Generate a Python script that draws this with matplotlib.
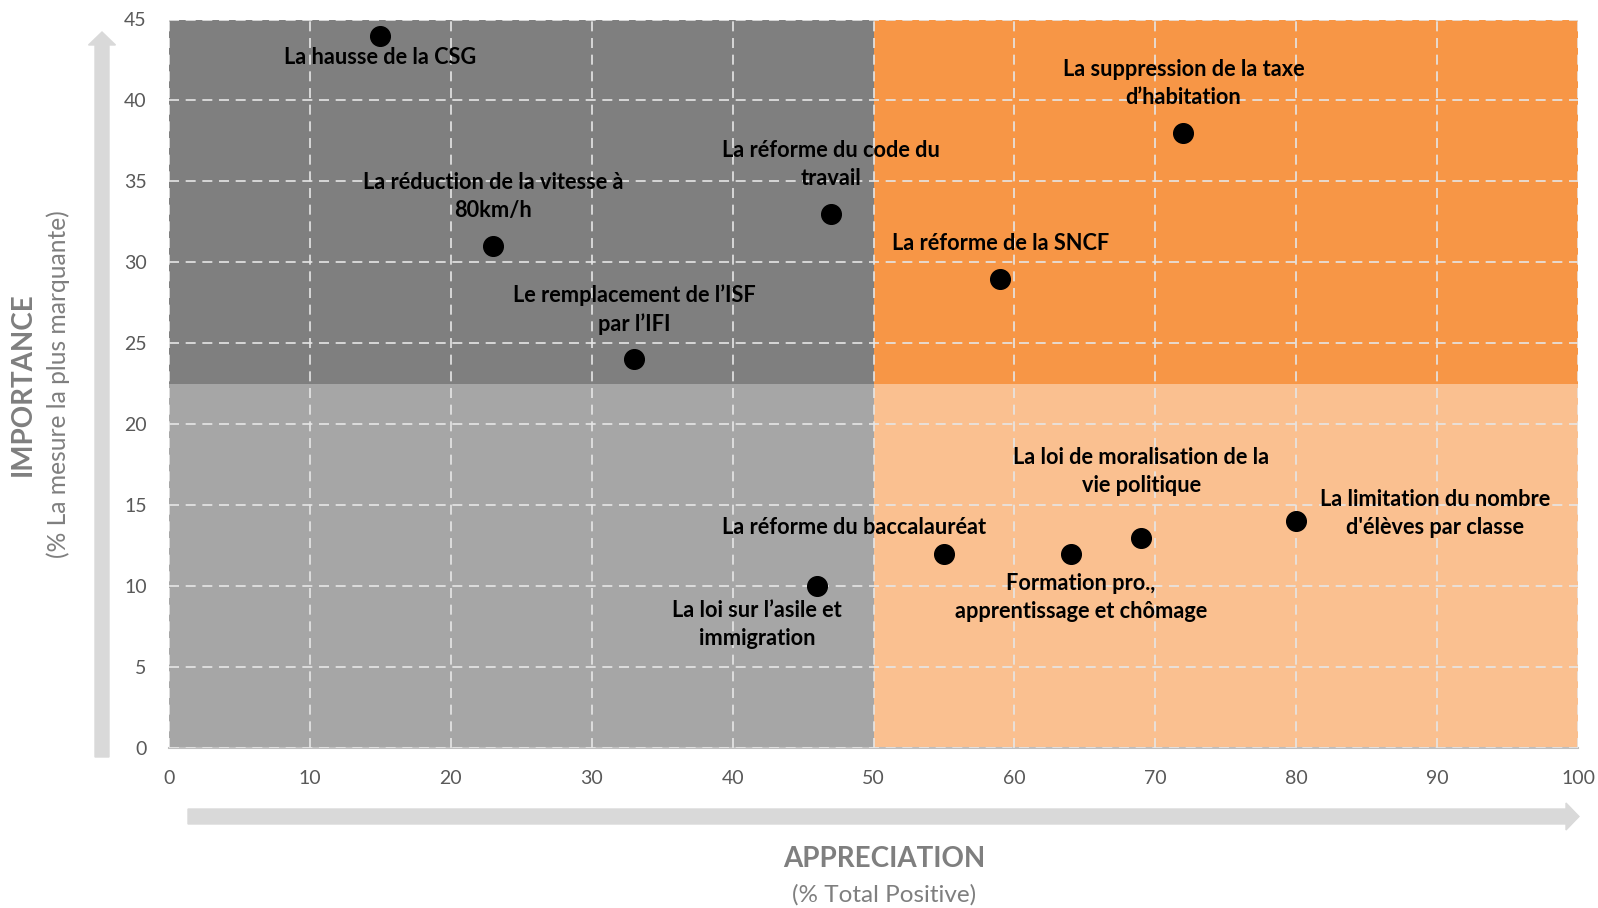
import numpy as np
import matplotlib
matplotlib.use('Agg')
import matplotlib.pyplot as plt
import matplotlib.patches as mpatches
from matplotlib.transforms import IdentityTransform

plt.rc('font', family=['Lato', 'DejaVu Sans'])

# data
mesures = [
    "La hausse de la CSG",
    "La réduction de la vitesse à\n80km/h",
    "Le remplacement de l’ISF\npar l’IFI",
    "La réforme du code du\ntravail",
    "La réforme de la SNCF",
    "La suppression de la taxe\nd’habitation",
    "La réforme du baccalauréat",
    "La loi sur l’asile et\nimmigration",
    "Formation pro.,\napprentissage et chômage",
    "La loi de moralisation de la\nvie politique",
    "La limitation du nombre\nd'élèves par classe",
]
appreciation = [15, 23, 33, 47, 59, 72, 55, 46, 64, 69, 80]
importance = [44, 31, 24, 33, 29, 38, 12, 10, 12, 13, 14]

x_ticks = list(range(0, 101, 10))
y_ticks = list(range(0, 46, 5))

# label offsets from the point, in pixels (dx, dy)
offsets = [(0, -22), (0, 50), (0, 50), (0, 49), (0, 35), (0, 49),
           (-90, 26), (-60, -38), (10, -44), (0, 66), (139, 8)]

W, H = 1598, 908
fig = plt.figure(figsize=(W / 100, H / 100), dpi=100)
ax = fig.add_axes([169 / W, (H - 748) / H, (1578 - 169) / W, (748 - 19.5) / H])

x_mid, y_mid = 50, 22.5
quads = [((0, y_mid), '#7f7f7f'), ((0, 0), '#a6a6a6'),
         ((x_mid, y_mid), '#f79646'), ((x_mid, 0), '#fac090')]
for (x0, y0), c in quads:
    ax.add_patch(mpatches.Rectangle((x0, y0), 50, 22.5, facecolor=c,
                                    edgecolor='none', zorder=0))

ax.set_xlim(0, 100)
ax.set_ylim(0, 45)
ax.set_xticks(x_ticks)
ax.set_yticks(y_ticks)
ax.grid(True, color='#e6e6e6', linestyle=(0, (6, 4)), linewidth=1.2, zorder=1)
ax.set_axisbelow(False)
for s in ['top', 'right', 'left']:
    ax.spines[s].set_visible(False)
ax.spines['bottom'].set_color('#bfbfbf')
ax.spines['bottom'].set_linewidth(1.5)
ax.tick_params(length=0, labelsize=14, colors='#595959')
ax.tick_params(axis='x', pad=16)
ax.tick_params(axis='y', pad=16)

ax.scatter(appreciation, importance, s=200, color='black', zorder=3)

for name, xv, yv, (dx, dy) in zip(mesures, appreciation, importance, offsets):
    ax.annotate(name, (xv, yv), xytext=(dx * 0.72, dy * 0.72),
                textcoords='offset points', ha='center', va='center',
                fontsize=15.7, fontweight='bold', color='black',
                linespacing=1.42, zorder=4)

# axis arrows
ident = IdentityTransform()
fig.add_artist(mpatches.FancyArrow(102, H - 757, 0, (757 - 32), width=14,
                                   head_width=27, head_length=13,
                                   length_includes_head=True,
                                   color='#d9d9d9', transform=ident))
fig.add_artist(mpatches.FancyArrow(188, H - 816.5, 1579 - 188, 0, width=15,
                                   head_width=27, head_length=13,
                                   length_includes_head=True,
                                   color='#d9d9d9', transform=ident))

fig.text(22.4 / W, 1 - 384 / H, 'IMPORTANCE', rotation=90, ha='center',
         va='center', fontsize=20, fontweight='bold', color='#7f7f7f')
fig.text(58 / W, 1 - 384 / H, '(% La mesure la plus marquante)', rotation=90,
         ha='center', va='center', fontsize=17.7, color='#7f7f7f')
fig.text(884 / W, 1 - 859 / H, 'APPRECIATION', ha='center', va='center',
         fontsize=20, fontweight='bold', color='#7f7f7f')
fig.text(884 / W, 1 - 895 / H, '(% Total Positive)', ha='center', va='center',
         fontsize=17.5, color='#7f7f7f')

fig.savefig('out.png', dpi=100)
